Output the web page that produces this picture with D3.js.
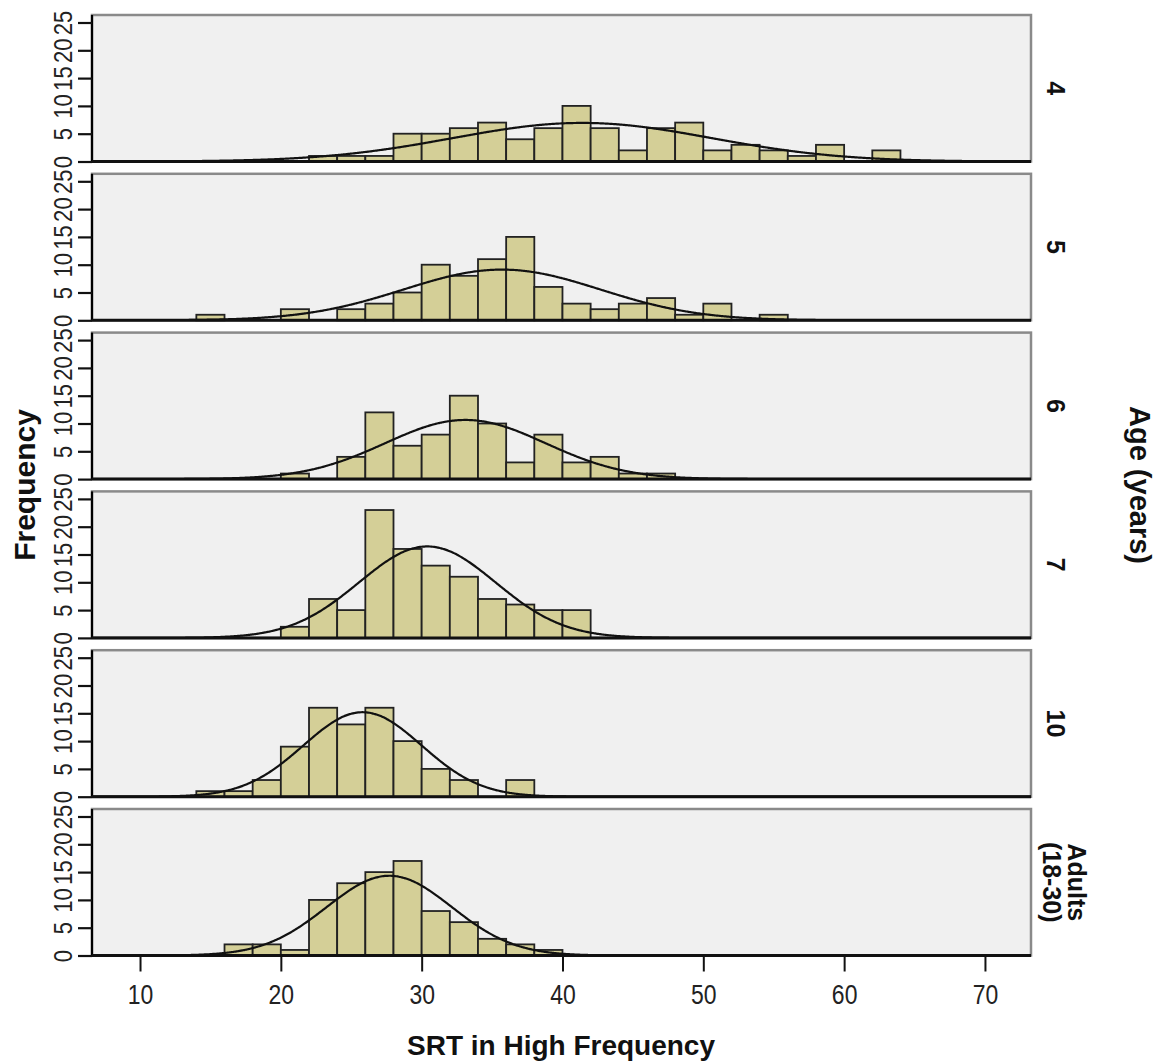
<!DOCTYPE html>
<html>
<head>
<meta charset="utf-8">
<script src="https://cdn.jsdelivr.net/npm/d3@7"></script>
<style>
  body { margin: 0; background: #ffffff; }
  svg { display: block; }
</style>
</head>
<body>
<svg id="chart" width="1158" height="1064"></svg>
<script>
// ---- data -------------------------------------------------------------
const ageGroups = ["4", "5", "6", "7", "10", "Adults|(18-30)"];
const binWidth = 2;
const binStarts = [14, 16, 18, 20, 22, 24, 26, 28, 30, 32, 34, 36, 38,
                   40, 42, 44, 46, 48, 50, 52, 54, 56, 58, 60, 62];

const countsAge4  = [0, 0, 0, 0, 1, 1, 1, 5, 5, 6, 7, 4, 6, 10, 6, 2, 6, 7, 2, 3, 2, 1, 3, 0, 2];
const countsAge5  = [1, 0, 0, 2, 0, 2, 3, 5, 10, 8, 11, 15, 6, 3, 2, 3, 4, 1, 3, 0, 1, 0, 0, 0, 0];
const countsAge6  = [0, 0, 0, 1, 0, 4, 12, 6, 8, 15, 10, 3, 8, 3, 4, 1, 1, 0, 0, 0, 0, 0, 0, 0, 0];
const countsAge7  = [0, 0, 0, 2, 7, 5, 23, 16, 13, 11, 7, 6, 5, 5, 0, 0, 0, 0, 0, 0, 0, 0, 0, 0, 0];
const countsAge10 = [1, 1, 3, 9, 16, 13, 16, 10, 5, 3, 0, 3, 0, 0, 0, 0, 0, 0, 0, 0, 0, 0, 0, 0, 0];
const countsAdult = [0, 2, 2, 1, 10, 13, 15, 17, 8, 6, 3, 2, 1, 0, 0, 0, 0, 0, 0, 0, 0, 0, 0, 0, 0];

// fitted normal curve parameters per group (mean, standard deviation)
const fitMeans = [41.4, 35.7, 33.1, 30.4, 25.8, 27.7];
const fitSDs   = [9.2, 7.0, 5.7, 4.85, 4.2, 4.45];

const xTicks = [10, 20, 30, 40, 50, 60, 70];
const yTicks = [0, 5, 10, 15, 20, 25];

const groupCounts = [countsAge4, countsAge5, countsAge6, countsAge7, countsAge10, countsAdult];

// ---- layout -----------------------------------------------------------
const svg = d3.select("#chart");
const plotLeft = 92, plotRight = 1031;
const firstTop = 15, panelStep = 158.8, panelH = 146.5;

const x = d3.scaleLinear().domain([6.59, 73.27]).range([plotLeft, plotRight]);
const y = d3.scaleLinear().domain([0, 26.35]).range([panelH, 0]);

const fillBar = "#d4cf97";
const tickFont = "'Liberation Sans', Arial, sans-serif";

svg.append("defs").append("clipPath").attr("id", "panelClip")
  .append("rect").attr("x", plotLeft).attr("y", 0)
  .attr("width", plotRight - plotLeft).attr("height", panelH);

groupCounts.forEach((counts, i) => {
  const top = firstTop + i * panelStep;
  const g = svg.append("g").attr("transform", `translate(0,${top})`);

  // panel background and frame
  g.append("rect")
    .attr("x", plotLeft).attr("y", 0)
    .attr("width", plotRight - plotLeft).attr("height", panelH)
    .attr("fill", "#f0f0f0")
    .attr("stroke", "#8a8a8a").attr("stroke-width", 2.5);

  const bins = binStarts.map((b, k) => ({ x0: b, x1: b + binWidth, n: counts[k] }))
    .filter(d => d.n > 0);

  g.append("g").selectAll("rect").data(bins).join("rect")
    .attr("x", d => x(d.x0))
    .attr("width", d => x(d.x1) - x(d.x0))
    .attr("y", d => y(d.n))
    .attr("height", d => y(0) - y(d.n))
    .attr("fill", fillBar)
    .attr("stroke", "#222")
    .attr("stroke-width", 1.8);

  // normal curve scaled to the group's count and bin width
  const total = d3.sum(counts);
  const mu = fitMeans[i], sd = fitSDs[i];
  const xs = d3.range(x.domain()[0], x.domain()[1] + 0.05, 0.1);
  const curve = xs.map(v => [v, total * binWidth * Math.exp(-0.5 * ((v - mu) / sd) ** 2) / (sd * Math.sqrt(2 * Math.PI))]);
  g.append("path")
    .attr("clip-path", "url(#panelClip)")
    .attr("d", d3.line().x(d => x(d[0])).y(d => y(d[1])).curve(d3.curveBasis)(curve))
    .attr("fill", "none")
    .attr("stroke", "#111")
    .attr("stroke-width", 2.2);

  // left axis
  const yAxis = g.append("g").attr("transform", `translate(${plotLeft},0)`)
    .call(d3.axisLeft(y).tickValues(yTicks).tickSize(14).tickPadding(0).tickSizeOuter(0));
  yAxis.select(".domain").attr("stroke", "#000").attr("stroke-width", 2.2)
    .attr("d", `M0,0V${panelH}`);
  yAxis.selectAll(".tick line").attr("stroke", "#111").attr("stroke-width", 2.2);
  yAxis.selectAll(".tick text")
    .attr("x", 0).attr("dy", 0)
    .attr("text-anchor", "middle")
    .attr("transform", "translate(-20,0) rotate(-90) scale(0.85,1)")
    .style("font-family", tickFont).style("font-size", "26px").attr("fill", "#222");

  // baseline
  g.append("line")
    .attr("x1", plotLeft).attr("x2", plotRight)
    .attr("y1", panelH).attr("y2", panelH)
    .attr("stroke", "#111").attr("stroke-width", 3);

  // group label on the right
  const lines = ageGroups[i].split("|");
  const cy = panelH / 2;
  const lab = g.append("text")
    .attr("transform", `translate(${lines.length > 1 ? 1068 : 1047},${cy}) rotate(90)`)
    .attr("text-anchor", "middle")
    .style("font-family", tickFont).style("font-size", "25px").style("font-weight", "bold")
    .attr("fill", "#111");
  lines.forEach((t, k) => {
    lab.append("tspan").attr("x", 0).attr("y", k * 25).text(t);
  });

  // bottom axis only under the last panel
  if (i === groupCounts.length - 1) {
    const xAxis = g.append("g").attr("transform", `translate(0,${panelH})`)
      .call(d3.axisBottom(x).tickValues(xTicks).tickSize(16).tickPadding(10).tickSizeOuter(0));
    xAxis.select(".domain").remove();
    xAxis.selectAll(".tick line").attr("stroke", "#111").attr("stroke-width", 2);
    xAxis.selectAll(".tick text")
      .attr("y", 0).attr("dy", 0)
      .attr("transform", "translate(0,48) scale(0.82,1)")
      .style("font-family", tickFont).style("font-size", "28px").attr("fill", "#222");
  }
});

// axis titles
svg.append("text")
  .attr("transform", "translate(35,485) rotate(-90)")
  .attr("text-anchor", "middle")
  .style("font-family", tickFont).style("font-size", "30px").style("font-weight", "bold")
  .attr("fill", "#111")
  .text("Frequency");

svg.append("text")
  .attr("x", 561).attr("y", 1055)
  .attr("text-anchor", "middle")
  .style("font-family", tickFont).style("font-size", "28px").style("font-weight", "bold")
  .attr("fill", "#111")
  .text("SRT in High Frequency");

svg.append("text")
  .attr("transform", "translate(1130,485) rotate(90)")
  .attr("text-anchor", "middle")
  .style("font-family", tickFont).style("font-size", "29px").style("font-weight", "bold")
  .attr("fill", "#111")
  .text("Age (years)");
</script>
</body>
</html>
